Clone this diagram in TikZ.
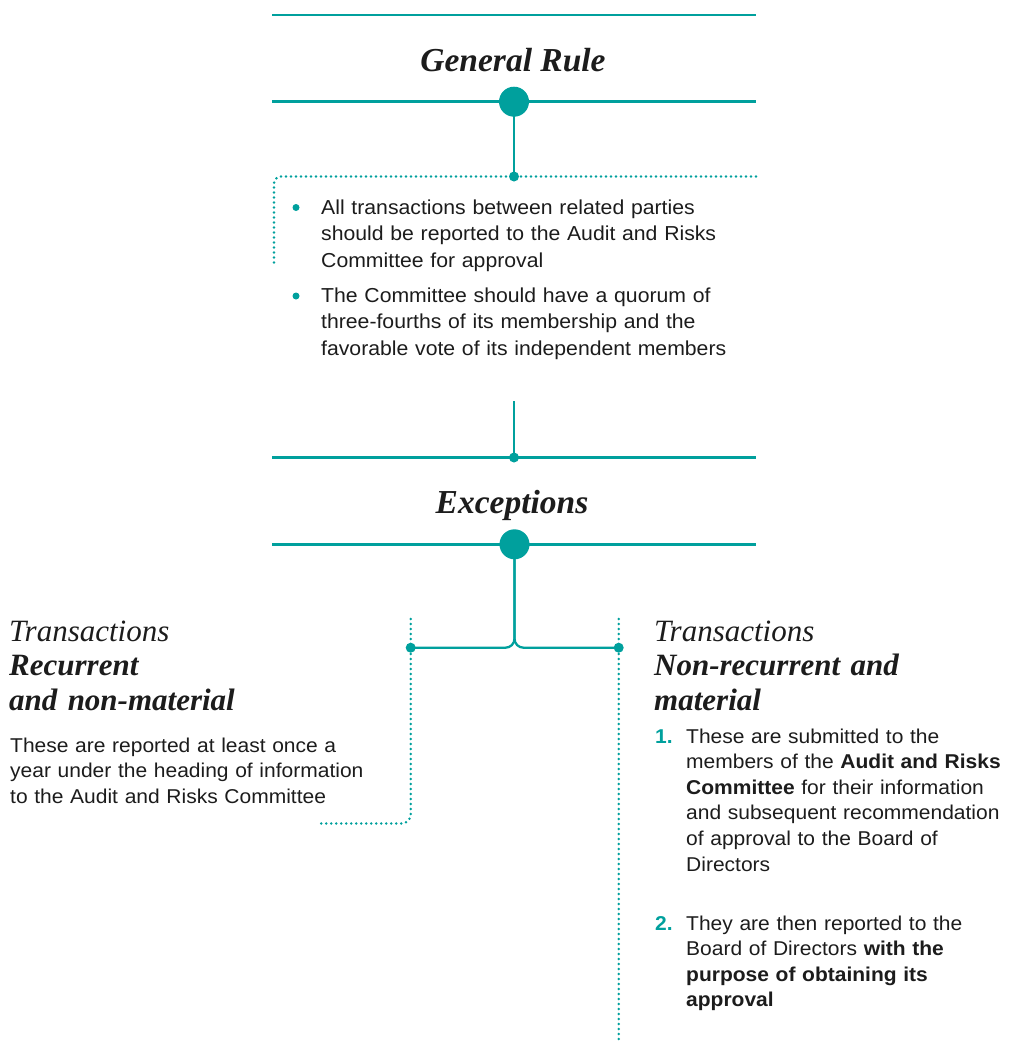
\documentclass[tikz,border=0pt]{standalone}
\usepackage{fontspec}
\setmainfont{Liberation Serif}
\newfontfamily\bodyfont[FakeStretch=1.05]{Liberation Sans}
\definecolor{brandteal}{RGB}{0,160,157}
\definecolor{ink}{RGB}{28,28,28}
\begin{document}
\begin{tikzpicture}[x=1pt,y=-1pt,
  rule/.style={draw=brandteal, line width=2.6pt},
  stem/.style={draw=brandteal, line width=2.3pt},
  dots/.style={draw=brandteal, line width=2.8pt, line cap=round, dash pattern=on 0pt off 5pt},
  bigdot/.style={circle, fill=brandteal, minimum size=30pt, inner sep=0pt},
  smalldot/.style={circle, fill=brandteal, minimum size=10pt, inner sep=0pt},
  bulletdot/.style={circle, fill=brandteal, minimum size=7pt, inner sep=0pt},
  heading/.style={font=\fontsize{33.5}{40}\selectfont\bfseries\itshape, text=ink, inner sep=0pt, anchor=base},
  subhead/.style={font=\fontsize{31}{34.5}\selectfont\bfseries\itshape, text=ink, inner sep=0pt, anchor=base west, align=left, text width=330pt},
  body/.style={font=\bodyfont\fontsize{20.2}{26.5}\selectfont, text=ink, inner sep=0pt, anchor=base west, align=left, text width=480pt},
  bodyb/.style={body, font=\bodyfont\fontsize{20}{25.6}\selectfont},
  num/.style={font=\bodyfont\fontsize{20}{25.6}\selectfont\bfseries, text=brandteal, inner sep=0pt, anchor=base west}
]
\useasboundingbox (0,0) rectangle (1010,1042);

% ---------- General Rule ----------
\coordinate (r1l) at (272,15);
\coordinate (r1r) at (756,15);
\draw[rule] (r1l) -- (r1r);
\node[heading] (gr) at (513,71) {General Rule};

\coordinate (r2l) at (272,101.7);
\coordinate (r2r) at (756,101.7);
\draw[rule] (r2l) -- (r2r);
\coordinate (c1) at (514,101.7);
\coordinate (c2) at (514,176.5);
\draw[stem] (c1) -- (c2);
\node[bigdot] (d1) at (c1) {};

\coordinate (b1r) at (756,176.5);
\coordinate (b1c) at (274,176.5);
\coordinate (b1e) at (274,267);
\draw[dots, rounded corners=7pt] (b1r) -- (b1c) -- (b1e);
\node[smalldot] (d2) at (c2) {};

\node[bulletdot] (bu1) at (296,207.5) {};
\node[body] (t1) at (321,214) {All transactions between related parties\\ should be reported to the Audit and Risks\\ Committee for approval};
\node[bulletdot] (bu2) at (296,296) {};
\node[body] (t2) at (321,302) {The Committee should have a quorum of\\ three-fourths of its membership and the\\ favorable vote of its independent members};

% ---------- Exceptions ----------
\coordinate (c3) at (514,401);
\coordinate (c4) at (514,457.5);
\draw[stem] (c3) -- (c4);
\coordinate (r3l) at (272,457.5);
\coordinate (r3r) at (756,457.5);
\draw[rule] (r3l) -- (r3r);
\node[smalldot] (d4) at (c4) {};

\node[heading] (ex) at (512,513) {Exceptions};

\coordinate (r4l) at (272,544.3);
\coordinate (r4r) at (756,544.3);
\draw[rule] (r4l) -- (r4r);
\coordinate (c5) at (514.5,544.3);
\coordinate (bj) at (514.5,647.7);
\coordinate (bl) at (410.7,647.7);
\coordinate (br) at (618.7,647.7);
\draw[stem, rounded corners=9pt] (c5) -- (bj) -- (bl);
\draw[stem, rounded corners=9pt] (c5) -- (bj) -- (br);
\node[bigdot] (d3) at (c5) {};

\coordinate (ltop) at (410.7,619);
\coordinate (lc) at (410.7,823.5);
\coordinate (lend) at (320,823.5);
\draw[dots, rounded corners=9pt] (ltop) -- (lc) -- (lend);
\coordinate (rtop) at (618.7,619);
\coordinate (rbot) at (618.7,1040);
\draw[dots] (rtop) -- (rbot);
\node[smalldot] (d5) at (bl) {};
\node[smalldot] (d6) at (br) {};

% ---------- Left branch ----------
\node[subhead] (lh) at (9,641) {{\mdseries Transactions}\\ Recurrent\\ and non-material};
\node[bodyb] (lb) at (10,752) {These are reported at least once a\\ year under the heading of information\\ to the Audit and Risks Committee};

% ---------- Right branch ----------
\node[subhead] (rh) at (654,641) {{\mdseries Transactions}\\ Non-recurrent and\\ material};
\node[num] (n1) at (655,743) {1.};
\node[bodyb] (l1) at (686,743) {These are submitted to the\\ members of the \textbf{Audit and Risks}\\ \textbf{Committee} for their information\\ and subsequent recommendation\\ of approval to the Board of\\ Directors};
\node[num] (n2) at (655,930) {2.};
\node[bodyb] (l2) at (686,930) {They are then reported to the\\ Board of Directors \textbf{with the}\\ \textbf{purpose of obtaining its}\\ \textbf{approval}};
\end{tikzpicture}
\end{document}
